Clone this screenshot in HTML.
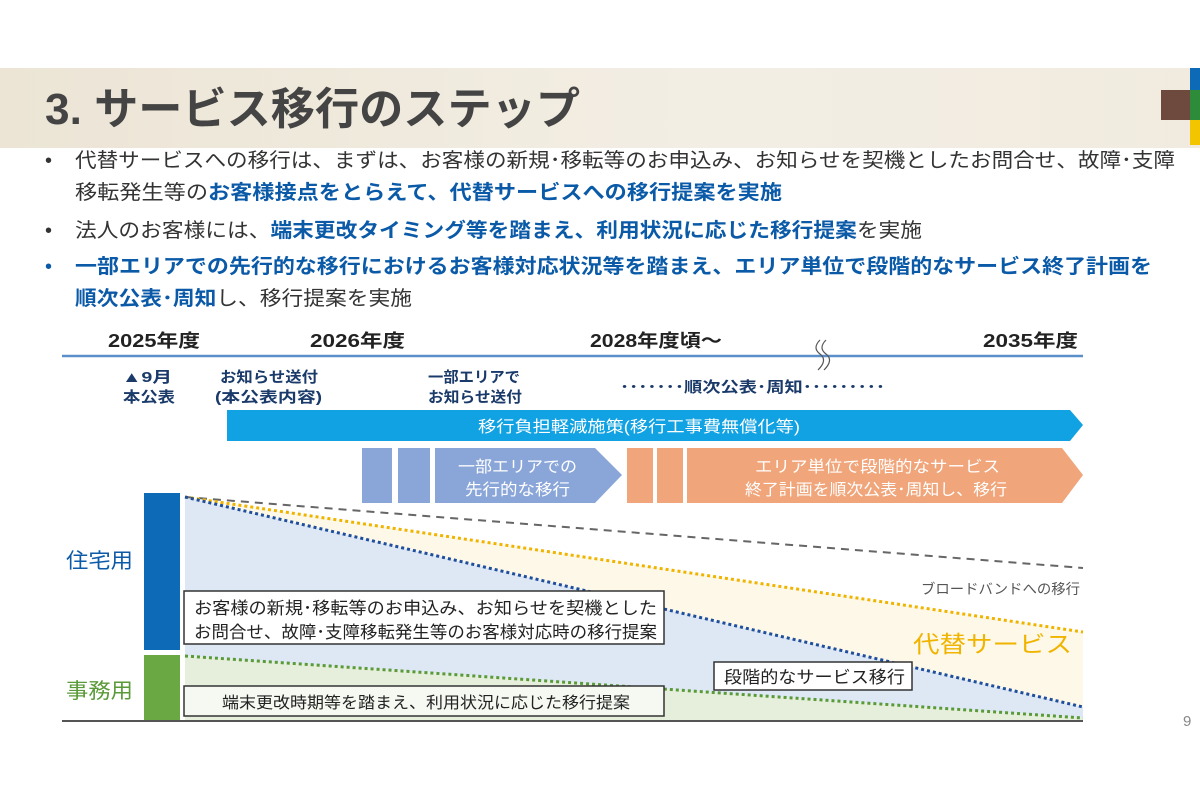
<!DOCTYPE html>
<html><head><meta charset="utf-8">
<style>
html,body{margin:0;padding:0;background:#fff;}
body{width:1200px;height:801px;position:relative;overflow:hidden;}
</style></head><body>
<svg width="1200" height="801" style="position:absolute;left:0;top:0" font-family="Liberation Sans, Noto Sans CJK JP, sans-serif">
<defs><linearGradient id="bg" x1="0" x2="1"><stop offset="0" stop-color="#ece5d6"/><stop offset="0.6" stop-color="#f3eee4"/><stop offset="1" stop-color="#f1ebdf"/></linearGradient></defs>
<rect x="0" y="68" width="1200" height="80" fill="url(#bg)"/>
<rect x="1190" y="68" width="10" height="22" fill="#0d6ab7"/>
<rect x="1161" y="90" width="29" height="30" fill="#6e4a3e"/>
<rect x="1190" y="90" width="10" height="30" fill="#2e8b3a"/>
<rect x="1190" y="120" width="10" height="25" fill="#f2c500"/>
<text x="45" y="124" font-size="44" fill="#444" textLength="535" lengthAdjust="spacingAndGlyphs" font-weight="bold">3. サービス移行のステップ</text>

<g font-size="20" fill="#333">
<text x="45" y="167">•</text><text x="45" y="237">•</text><text x="45" y="273" fill="#0a5aa8">•</text>
<text x="75" y="167" textLength="1100" lengthAdjust="spacingAndGlyphs">代替サービスへの移行は、まずは、お客様の新規･移転等のお申込み、お知らせを契機としたお問合せ、故障･支障</text>
<text x="75" y="199" textLength="707" lengthAdjust="spacingAndGlyphs">移転発生等の<tspan fill="#0a5aa8" font-weight="bold">お客様接点をとらえて、代替サービスへの移行提案を実施</tspan></text>
<text x="75" y="237" textLength="847" lengthAdjust="spacingAndGlyphs">法人のお客様には、<tspan fill="#0a5aa8" font-weight="bold">端末更改タイミング等を踏まえ、利用状況に応じた移行提案</tspan>を実施</text>
<text x="75" y="273" textLength="1077" lengthAdjust="spacingAndGlyphs" fill="#0a5aa8" font-weight="bold">一部エリアでの先行的な移行におけるお客様対応状況等を踏まえ、エリア単位で段階的なサービス終了計画を</text>
<text x="75" y="305" textLength="337" lengthAdjust="spacingAndGlyphs"><tspan fill="#0a5aa8" font-weight="bold">順次公表･周知</tspan>し、移行提案を実施</text>
</g>

<g font-size="18" font-weight="bold" fill="#222">
<text x="108" y="347" textLength="92" lengthAdjust="spacingAndGlyphs">2025年度</text>
<text x="310" y="347" textLength="95" lengthAdjust="spacingAndGlyphs">2026年度</text>
<text x="590" y="347" textLength="132" lengthAdjust="spacingAndGlyphs">2028年度頃～</text>
<text x="983" y="347" textLength="95" lengthAdjust="spacingAndGlyphs">2035年度</text>
</g>
<line x1="62" y1="356" x2="1083" y2="356" stroke="#5b8fc9" stroke-width="2.5"/>
<path d="M820 340 q-8 8 0 14 q8 6 -2 16" stroke="#555" fill="none" stroke-width="1.2"/>
<path d="M826 340 q-8 8 0 14 q8 6 -2 16" stroke="#555" fill="none" stroke-width="1.2"/>
<g font-size="15" font-weight="bold" fill="#1a3a6a">
<text x="122" y="382" textLength="50" lengthAdjust="spacingAndGlyphs">▲9月</text>
<text x="123" y="402" textLength="52" lengthAdjust="spacingAndGlyphs">本公表</text>
<text x="220" y="382" textLength="98" lengthAdjust="spacingAndGlyphs">お知らせ送付</text>
<text x="215" y="402" textLength="107" lengthAdjust="spacingAndGlyphs">(本公表内容)</text>
<text x="428" y="382" textLength="92" lengthAdjust="spacingAndGlyphs">一部エリアで</text>
<text x="428" y="402" textLength="94" lengthAdjust="spacingAndGlyphs">お知らせ送付</text>
<text x="620" y="392" textLength="265" lengthAdjust="spacingAndGlyphs">･･･････順次公表･周知･････････</text>
</g>
<polygon points="227,410 1070,410 1083,425 1070,441 227,441" fill="#10a2e2"/>
<text x="478" y="432" font-size="16" fill="#fff" textLength="322" lengthAdjust="spacingAndGlyphs">移行負担軽減施策(移行工事費無償化等)</text>
<rect x="362" y="448" width="30" height="55" fill="#8aa6d8"/>
<rect x="398" y="448" width="32" height="55" fill="#8aa6d8"/>
<polygon points="435,448 595,448 622,475 595,503 435,503" fill="#8aa6d8"/>
<g font-size="16" fill="#fff">
<text x="458" y="472" textLength="119" lengthAdjust="spacingAndGlyphs">一部エリアでの</text>
<text x="465" y="495" textLength="105" lengthAdjust="spacingAndGlyphs">先行的な移行</text>
</g>
<rect x="627" y="448" width="26" height="55" fill="#f0a57a"/>
<rect x="657" y="448" width="26" height="55" fill="#f0a57a"/>
<polygon points="687,448 1062,448 1083,475 1062,503 687,503" fill="#f0a57a"/>
<g font-size="16" fill="#fff">
<text x="755" y="472" textLength="245" lengthAdjust="spacingAndGlyphs">エリア単位で段階的なサービス</text>
<text x="745" y="495" textLength="262" lengthAdjust="spacingAndGlyphs">終了計画を順次公表･周知し、移行</text>
</g>

<polygon points="185,497 1083,632 1083,707" fill="#fdf8e8"/>
<polygon points="185,497 1083,707 1083,718 185,656" fill="#dde8f4"/>
<polygon points="185,656 1083,718 1083,721 185,721" fill="#e6efdc"/>
<line x1="185" y1="497" x2="1083" y2="568" stroke="#666" stroke-width="2" stroke-dasharray="8,6"/>
<line x1="185" y1="497" x2="1083" y2="632" stroke="#f0b400" stroke-width="3" stroke-dasharray="3,3"/>
<line x1="185" y1="497" x2="1083" y2="707" stroke="#1f4e9c" stroke-width="3" stroke-dasharray="3,3"/>
<line x1="185" y1="656" x2="1083" y2="718" stroke="#5a9a38" stroke-width="3" stroke-dasharray="3,3"/>
<rect x="144" y="493" width="36" height="157" fill="#0d6ab7"/>
<rect x="144" y="655" width="36" height="65" fill="#6aa844"/>
<line x1="62" y1="721" x2="1083" y2="721" stroke="#555" stroke-width="2"/>
<text x="66" y="568" font-size="21" fill="#0d5aa8" textLength="67" lengthAdjust="spacingAndGlyphs">住宅用</text>
<text x="66" y="698" font-size="21" fill="#5a9a38" textLength="67" lengthAdjust="spacingAndGlyphs">事務用</text>
<rect x="184" y="591" width="480" height="53" fill="#fff" stroke="#333" stroke-width="1.5"/>
<text x="194" y="614" font-size="17" fill="#222" textLength="463" lengthAdjust="spacingAndGlyphs">お客様の新規･移転等のお申込み、お知らせを契機とした</text>
<text x="194" y="638" font-size="17" fill="#222" textLength="463" lengthAdjust="spacingAndGlyphs">お問合せ、故障･支障移転発生等のお客様対応時の移行提案</text>
<rect x="184" y="686" width="480" height="30" fill="#f6f9f2" stroke="#333" stroke-width="1.5"/>
<text x="222" y="708" font-size="16" fill="#222" textLength="408" lengthAdjust="spacingAndGlyphs">端末更改時期等を踏まえ、利用状況に応じた移行提案</text>
<rect x="714" y="662" width="198" height="28" fill="#fff" stroke="#333" stroke-width="1.5"/>
<text x="724" y="683" font-size="17" fill="#222" textLength="181" lengthAdjust="spacingAndGlyphs">段階的なサービス移行</text>
<text x="913" y="652" font-size="23" fill="#f0b400" textLength="159" lengthAdjust="spacingAndGlyphs">代替サービス</text>
<text x="921" y="594" font-size="14" fill="#555" textLength="159" lengthAdjust="spacingAndGlyphs">ブロードバンドへの移行</text>
<text x="1183" y="726" font-size="15" fill="#888">9</text>
</svg>
</body></html>
